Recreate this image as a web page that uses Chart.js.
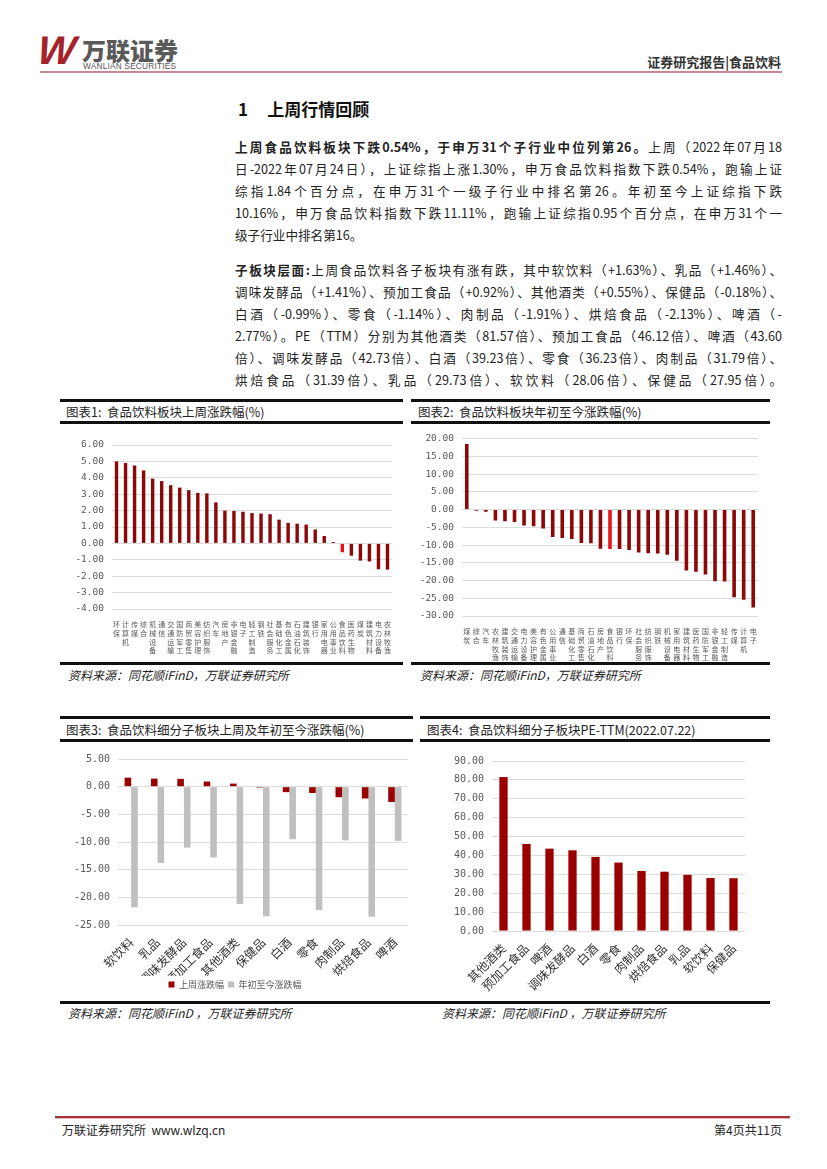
<!DOCTYPE html>
<html>
<head>
<meta charset="utf-8">
<script src="https://cdn.jsdelivr.net/npm/chart.js@4.4.0/dist/chart.umd.min.js"></script>
<style>
  body { margin: 0; background: #fff; font-family: "Noto Sans CJK SC", "Noto Sans", sans-serif; color: #222; }
  #page { position: relative; width: 827px; height: 1169px; overflow: hidden; }
  .abs { position: absolute; }
  .logoW { left: 38px; top: 28px; font: italic 900 40px "Liberation Sans", sans-serif; color: #a4232a; letter-spacing: -5px; transform: skewX(-6deg); }
  .logoCn { left: 82px; top: 32px; font-weight: 900; font-size: 24px; color: #5a5a5a; letter-spacing: 0px; }
  .logoEn { left: 83px; top: 61px; font: 8.3px "Liberation Sans", sans-serif; color: #555; letter-spacing: 0.2px; }
  .hdrRight { right: 46px; top: 52px; font-weight: 700; font-size: 13px; color: #333; }
  .hdrLine { left: 40px; top: 71px; width: 742px; height: 2px; background: #c38a90; }
  .sec { left: 238px; top: 96px; font-weight: 700; font-size: 17px; color: #111; }
  .para { left: 235px; width: 547px; font-size: 12.6px; color: #222; }
  .para div { height: 22px; line-height: 22px; text-align: justify; text-align-last: justify; white-space: nowrap; }
  .para div.last { text-align-last: left; }
  .para b { font-weight: 700; }
  .bar { height: 3px; background: #111; }
  .ttl { font-size: 12.5px; color: #222; }
  .src { font-size: 12px; font-style: italic; color: #222; }
  .chart { position: absolute; }
  .footLine { left: 55px; top: 1116px; width: 735px; height: 2px; background: #a0343a; }
  .footLine2 { left: 55px; top: 1118px; width: 735px; height: 1px; background: #e2b5b8; }
  .foot { top: 1121px; font-size: 12px; color: #222; }
</style>
</head>
<body>
<div id="page">
  <div class="abs logoW">W</div>
  <div class="abs logoCn">万联证券</div>
  <div class="abs logoEn">WANLIAN SECURITIES</div>
  <div class="abs hdrRight">证券研究报告|食品饮料</div>
  <div class="abs hdrLine"></div>

  <div class="abs sec">1&nbsp;&nbsp;&nbsp;&nbsp;&nbsp;上周行情回顾</div>

  <div class="abs para" style="top:136px;">
    <div><b>上周食品饮料板块下跌0.54%，于申万31个子行业中位列第26。</b>上周（2022年07月18</div>
    <div>日-2022年07月24日），上证综指上涨1.30%，申万食品饮料指数下跌0.54%，跑输上证</div>
    <div>综指1.84个百分点，在申万31个一级子行业中排名第26。年初至今上证综指下跌</div>
    <div>10.16%，申万食品饮料指数下跌11.11%，跑输上证综指0.95个百分点，在申万31个一</div>
    <div class="last">级子行业中排名第16。</div>
  </div>
  <div class="abs para" style="top:259px;">
    <div><b>子板块层面:</b>上周食品饮料各子板块有涨有跌，其中软饮料（+1.63%）、乳品（+1.46%）、</div>
    <div>调味发酵品（+1.41%）、预加工食品（+0.92%）、其他酒类（+0.55%）、保健品（-0.18%）、</div>
    <div>白酒（-0.99%）、零食（-1.14%）、肉制品（-1.91%）、烘焙食品（-2.13%）、啤酒（-</div>
    <div>2.77%）。PE（TTM）分别为其他酒类（81.57倍）、预加工食品（46.12倍）、啤酒（43.60</div>
    <div>倍）、调味发酵品（42.73倍）、白酒（39.23倍）、零食（36.23倍）、肉制品（31.79倍）、</div>
    <div>烘焙食品（31.39倍）、乳品（29.73倍）、软饮料（28.06倍）、保健品（27.95倍）。</div>
  </div>

  <!-- chart 1/2 frames -->
  <div class="abs bar" style="left:60px;top:399px;width:343px;"></div>
  <div class="abs bar" style="left:411px;top:399px;width:359px;"></div>
  <div class="abs ttl" style="left:66px;top:402px;">图表1:&nbsp; 食品饮料板块上周涨跌幅(%)</div>
  <div class="abs ttl" style="left:418px;top:402px;">图表2:&nbsp; 食品饮料板块年初至今涨跌幅(%)</div>
  <div class="abs bar" style="left:60px;top:421px;width:343px;"></div>
  <div class="abs bar" style="left:411px;top:421px;width:359px;"></div>
  <div class="chart" style="left:62px;top:428px;width:338px;height:234px;"><canvas id="c1"></canvas></div>
  <div class="chart" style="left:413px;top:425px;width:355px;height:237px;"><canvas id="c2"></canvas></div>
  <div class="abs bar" style="left:60px;top:662px;width:343px;"></div>
  <div class="abs bar" style="left:411px;top:662px;width:359px;"></div>
  <div class="abs src" style="left:68px;top:666px;">资料来源：同花顺iFinD，万联证券研究所</div>
  <div class="abs src" style="left:420px;top:666px;">资料来源：同花顺iFinD，万联证券研究所</div>

  <!-- chart 3/4 frames -->
  <div class="abs bar" style="left:60px;top:716px;width:353px;"></div>
  <div class="abs bar" style="left:420px;top:716px;width:350px;"></div>
  <div class="abs ttl" style="left:66px;top:720px;">图表3:&nbsp; 食品饮料细分子板块上周及年初至今涨跌幅(%)</div>
  <div class="abs ttl" style="left:427px;top:720px;">图表4:&nbsp; 食品饮料细分子板块PE-TTM(2022.07.22)</div>
  <div class="abs bar" style="left:60px;top:739px;width:353px;"></div>
  <div class="abs bar" style="left:420px;top:739px;width:350px;"></div>
  <div class="chart" style="left:62px;top:745px;width:350px;height:254px;"><canvas id="c3"></canvas></div>
  <div class="chart" style="left:430px;top:745px;width:330px;height:254px;"><canvas id="c4"></canvas></div>
  <div class="abs bar" style="left:60px;top:1001px;width:710px;"></div>
  <div class="abs src" style="left:68px;top:1004px;">资料来源：同花顺iFinD ，万联证券研究所</div>
  <div class="abs src" style="left:442px;top:1004px;">资料来源：同花顺iFinD ，万联证券研究所</div>

  <div class="abs footLine"></div>
  <div class="abs footLine2"></div>
  <div class="abs foot" style="left:62px;">万联证券研究所&nbsp; www.wlzq.cn</div>
  <div class="abs foot" style="right:45px;">第4页共11页</div>
</div>

<script>
// ---- data ----
const weekIndustries = ["环保","计算机","传媒","综合","机械设备","通信","交通运输","国防军工","商贸零售","美容护理","纺织服饰","汽车","房地产","非银金融","电子","轻工制造","钢铁","社会服务","基础化工","有色金属","石油石化","建筑装饰","银行","家用电器","公用事业","食品饮料","医药生物","煤炭","建筑材料","电力设备","农林牧渔"];
const weekChange = [5.00,4.90,4.75,4.45,3.95,3.80,3.55,3.40,3.25,3.08,3.05,2.50,2.00,1.98,1.93,1.85,1.82,1.78,1.45,1.25,1.20,1.15,0.85,0.45,0.08,-0.54,-0.75,-1.05,-1.10,-1.58,-1.60];

const ytdIndustries = ["煤炭","综合","汽车","农林牧渔","建筑装饰","交通运输","电力设备","美容护理","有色金属","公用事业","通信","基础化工","商贸零售","石油石化","房地产","食品饮料","银行","环保","社会服务","纺织服饰","钢铁","机械设备","家用电器","建筑材料","医药生物","国防军工","非银金融","轻工制造","传媒","计算机","电子"];
const ytdChange = [18.5,-0.3,-0.6,-3.1,-3.3,-3.5,-4.5,-4.7,-5.3,-7.7,-8.0,-8.3,-9.4,-9.5,-11.0,-11.11,-11.1,-11.4,-12.1,-12.3,-12.4,-12.7,-14.4,-17.2,-17.5,-18.3,-20.2,-20.3,-24.7,-25.4,-27.6];

const subSectors = ["软饮料","乳品","调味发酵品","预加工食品","其他酒类","保健品","白酒","零食","肉制品","烘焙食品","啤酒"];
const subWeek = [1.63,1.46,1.41,0.92,0.55,-0.18,-0.99,-1.14,-1.91,-2.13,-2.77];
const subYtd = [-21.8,-13.8,-11.0,-12.8,-21.2,-23.4,-9.5,-22.3,-9.7,-23.5,-9.8];

const peSectors = ["其他酒类","预加工食品","啤酒","调味发酵品","白酒","零食","肉制品","烘焙食品","乳品","软饮料","保健品"];
const peTTM = [81.57,46.12,43.60,42.73,39.23,36.23,31.79,31.39,29.73,28.06,27.95];

const highlight = "食品饮料";

// ---- styles ----
const DARK = "#8c0808";
const BRIGHT = "#e8141b";
const GRID = "#dcdcdc";
const TICK = "#595959";
const CJK = '"Noto Sans CJK SC", sans-serif';
const MONO = '"DejaVu Sans Mono", monospace';

Chart.defaults.font.family = CJK;
Chart.defaults.animation = false;
Chart.defaults.responsive = true;
Chart.defaults.maintainAspectRatio = false;

const stacked = arr => arr.map(s => s.split(""));
const fmt2 = v => Number(v).toFixed(2);

// fixed axis sizes so the plot areas land where the report has them
function yAxis(min, max, step, width, size) {
  return {
    min, max,
    afterFit: s => { s.width = width; },
    ticks: { stepSize: step, color: TICK, font: { size: size, family: MONO }, callback: fmt2, padding: 8 },
    grid: { color: GRID, drawTicks: false },
    border: { display: false }
  };
}

function xAxis(height, opts) {
  return Object.assign({
    afterFit: s => { s.height = height; },
    grid: { display: false },
    border: { display: false }
  }, opts);
}

function industryChart(id, labels, values, min, max, step, yW, xH, pad) {
  new Chart(document.getElementById(id), {
    type: "bar",
    data: {
      labels: stacked(labels),
      datasets: [{
        data: values,
        backgroundColor: labels.map(l => l === highlight ? BRIGHT : DARK),
        barPercentage: 0.42,
        categoryPercentage: 0.9
      }]
    },
    options: {
      layout: { padding: pad },
      plugins: { legend: { display: false }, tooltip: { enabled: false } },
      scales: {
        x: xAxis(xH, {
          ticks: { color: TICK, font: { size: 7, lineHeight: 1.25 }, autoSkip: false, maxRotation: 0, minRotation: 0, padding: 3 }
        }),
        y: yAxis(min, max, step, yW, 9.5)
      }
    }
  });
}

industryChart("c1", weekIndustries, weekChange, -4, 6, 1, 50, 53, { top: 17, right: 8, bottom: 0, left: 0 });
industryChart("c2", ytdIndustries, ytdChange, -30, 20, 5, 49, 46, { top: 9, right: 10, bottom: 0, left: 0 });

new Chart(document.getElementById("c3"), {
  type: "bar",
  data: {
    labels: subSectors,
    datasets: [
      { label: "上周涨跌幅", data: subWeek, backgroundColor: "#9a0000", barPercentage: 1, categoryPercentage: 0.5 },
      { label: "年初至今涨跌幅", data: subYtd, backgroundColor: "#bfbfbf", barPercentage: 1, categoryPercentage: 0.5 }
    ]
  },
  options: {
    layout: { padding: { top: 13, right: 4, bottom: 0, left: 0 } },
    plugins: {
      tooltip: { enabled: false },
      legend: {
        position: "bottom",
        labels: { boxWidth: 6, boxHeight: 6, color: TICK, font: { size: 9 }, padding: 4 }
      }
    },
    scales: {
      x: xAxis(51, {
        ticks: { color: "#333", font: { size: 12 }, autoSkip: false, maxRotation: 45, minRotation: 45, padding: 2 }
      }),
      y: yAxis(-25, 5, 5, 56, 10)
    }
  }
});

new Chart(document.getElementById("c4"), {
  type: "bar",
  data: {
    labels: peSectors,
    datasets: [{ data: peTTM, backgroundColor: "#9a0000", barPercentage: 0.36, categoryPercentage: 1 }]
  },
  options: {
    layout: { padding: { top: 16, right: 15, bottom: 0, left: 0 } },
    plugins: { legend: { display: false }, tooltip: { enabled: false } },
    scales: {
      x: xAxis(68, {
        ticks: { color: "#333", font: { size: 12 }, autoSkip: false, maxRotation: 45, minRotation: 45, padding: 2 }
      }),
      y: yAxis(0, 90, 10, 62, 10)
    }
  }
});
</script>
</body>
</html>
